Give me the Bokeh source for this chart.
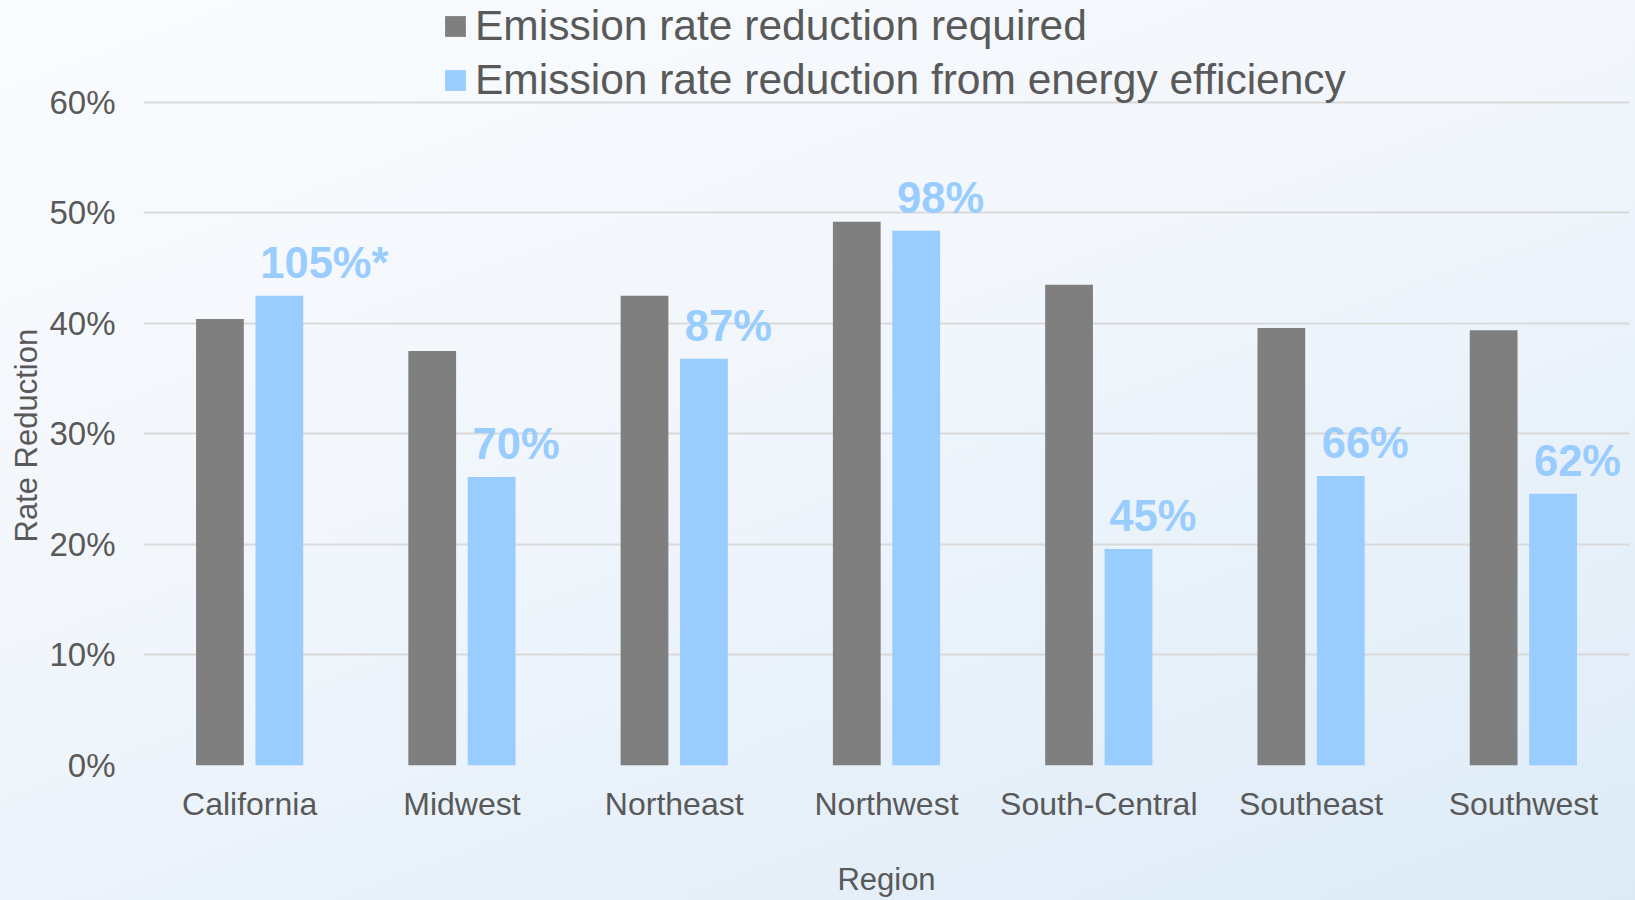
from bokeh.plotting import figure
from bokeh.models import (ColumnDataSource, FactorRange, Range1d, Legend, LegendItem,
                          FixedTicker, NumeralTickFormatter, Title)
from bokeh.transform import dodge
from bokeh.core.properties import value
from bokeh.embed import file_html
from bokeh.resources import INLINE

regions = ["California", "Midwest", "Northeast", "Northwest", "South-Central", "Southeast", "Southwest"]
required = [0.404, 0.375, 0.425, 0.492, 0.435, 0.396, 0.394]
efficiency = [0.425, 0.261, 0.368, 0.484, 0.196, 0.262, 0.246]
share_labels = ["105%*", "70%", "87%", "98%", "45%", "66%", "62%"]
y_ticks = [0.0, 0.1, 0.2, 0.3, 0.4, 0.5, 0.6]
series_names = ["Emission rate reduction required", "Emission rate reduction from energy efficiency"]

FONT = "Liberation Sans"
TXT = "#595959"
GRAY = "#7F7F7F"
BLUE = "#99CCFF"

src = ColumnDataSource(dict(region=regions, required=required, efficiency=efficiency, label=share_labels))

p = figure(width=1635, height=900, output_backend="svg", toolbar_location=None,
           x_range=FactorRange(factors=regions, range_padding=0),
           y_range=Range1d(0, 0.6923),
           min_border_left=143, min_border_right=6, min_border_top=0, min_border_bottom=135)

p.styles = {"background": "linear-gradient(160deg, #FAFCFE 0%, #F1F6FC 45%, #DDEBF7 100%)"}
p.border_fill_alpha = 0
p.background_fill_alpha = 0
p.outline_line_color = None

r1 = p.vbar(x=dodge("region", -0.14, range=p.x_range), top="required", width=0.225,
            source=src, fill_color=GRAY, line_color=None)
r2 = p.vbar(x=dodge("region", 0.14, range=p.x_range), top="efficiency", width=0.225,
            source=src, fill_color=BLUE, line_color=None)

p.text(x=dodge("region", 0.05, range=p.x_range), y="efficiency", text="label", source=src,
       text_align="left", text_baseline="alphabetic", y_offset=-33,
       text_font=value(FONT), text_font_style="bold", text_font_size="43.5px", text_color=BLUE)

p.yaxis.ticker = FixedTicker(ticks=y_ticks)
p.yaxis.formatter = NumeralTickFormatter(format="0%")
for ax in (p.xaxis[0], p.yaxis[0]):
    ax.axis_line_color = None
    ax.major_tick_line_color = None
    ax.minor_tick_line_color = None
    ax.major_label_text_font = FONT
    ax.major_label_text_font_size = "32px"
    ax.major_label_text_color = TXT
    ax.axis_label_text_font = FONT
    ax.axis_label_text_font_size = "31px"
    ax.axis_label_text_color = TXT
    ax.axis_label_text_font_style = "normal"

p.yaxis.major_label_text_font_size = "33px"
p.yaxis.major_label_standoff = 22
p.xaxis.axis_label = "Region"
p.xaxis.major_label_standoff = 14
p.xaxis.axis_label_standoff = 37

# y-axis title, centred on the 0%-60% span rather than on the whole frame
ytitle = Title(text="Rate Reduction", align="left", offset=223, standoff=6,
               text_font=FONT, text_font_size="31px", text_color=TXT, text_font_style="normal")
p.add_layout(ytitle, "left")

p.xgrid.grid_line_color = None
p.ygrid.grid_line_color = "#D9D9D9"
p.ygrid.grid_line_width = 2

legend = Legend(items=[LegendItem(label=series_names[0], renderers=[r1]),
                       LegendItem(label=series_names[1], renderers=[r2])],
                location=(299, 661), orientation="vertical",
                label_text_font=FONT, label_text_font_size="42.5px", label_text_color=TXT,
                glyph_width=26, glyph_height=26, label_standoff=7, spacing=6,
                padding=0, margin=0, border_line_color=None, background_fill_alpha=0)
p.add_layout(legend, "center")

open("out.html", "w").write(file_html(p, INLINE))
